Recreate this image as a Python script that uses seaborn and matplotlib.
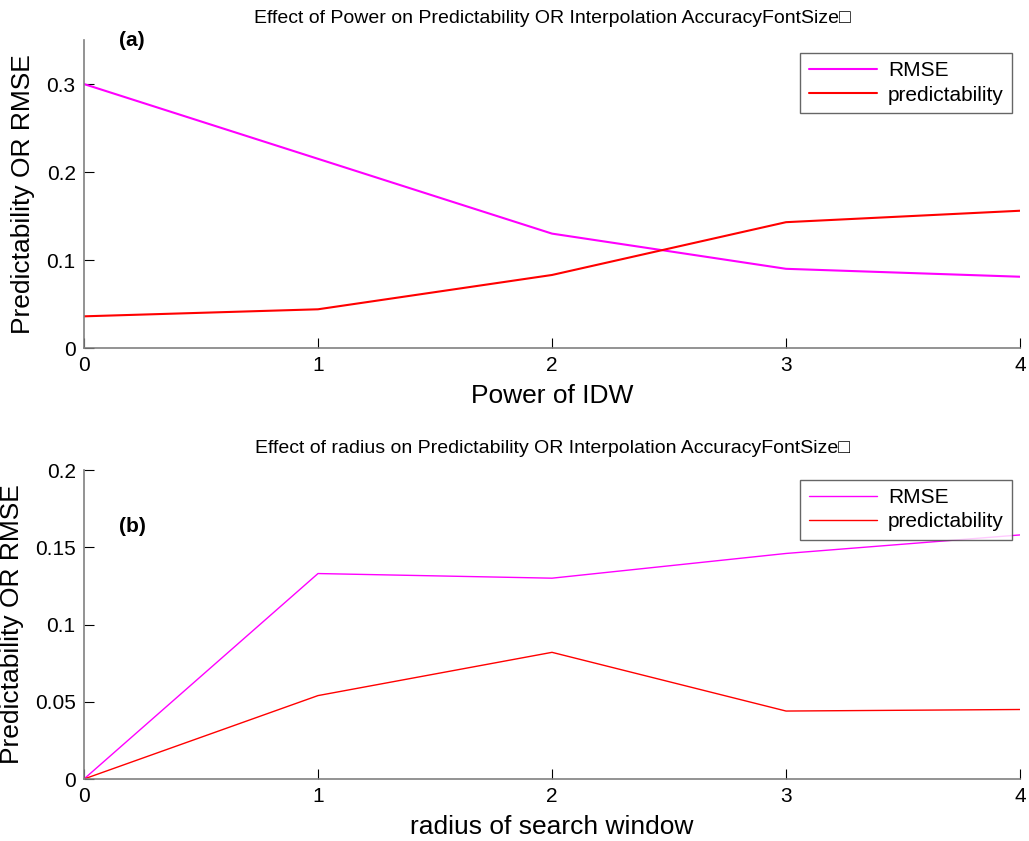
#!/usr/bin/env python3
# -*- coding: utf-8 -*-

import pandas as pd
import seaborn as sns
import matplotlib
import matplotlib.pyplot as plt

matplotlib.use('Agg')

# panel (a): power of IDW
power = [0, 1, 2, 3, 4]
rmse_power = [0.300, 0.215, 0.130, 0.090, 0.081]
pred_power = [0.036, 0.044, 0.083, 0.143, 0.156]

# panel (b): radius of search window
radius = [0, 1, 2, 3, 4]
rmse_radius = [0.0, 0.133, 0.130, 0.146, 0.158]
pred_radius = [0.0, 0.054, 0.082, 0.044, 0.045]

sns.set_style('white', {'text.color': 'black', 'axes.labelcolor': 'black',
                        'xtick.color': 'black', 'ytick.color': 'black'})
plt.rcParams['font.family'] = ['Liberation Sans', 'DejaVu Sans']
plt.rcParams['xtick.direction'] = 'in'
plt.rcParams['ytick.direction'] = 'in'

fig = plt.figure(figsize=(10.29, 8.41), dpi=100)
ax1 = fig.add_axes([0.0816, 0.5862, 0.9097, 0.3662])
ax2 = fig.add_axes([0.0816, 0.0737, 0.9097, 0.3674])

palette = {'RMSE': '#ff00ff', 'predictability': '#ff0000'}


def draw(ax, x, rmse, pred, lw):
    df = pd.DataFrame({'x': x + x,
                       'y': rmse + pred,
                       'series': ['RMSE'] * len(x) + ['predictability'] * len(x)})
    sns.lineplot(data=df, x='x', y='y', hue='series', palette=palette,
                 linewidth=lw, ax=ax, legend=True)
    ax.set_xlim(0, 4)
    ax.set_xticks([0, 1, 2, 3, 4])
    for side in ['top', 'right']:
        ax.spines[side].set_visible(False)
    for side in ['left', 'bottom']:
        ax.spines[side].set_color('#808080')
        ax.spines[side].set_linewidth(1.2)
    ax.tick_params(axis='both', labelsize=15, length=7, width=0.8,
                   color='black', labelcolor='black', left=True, bottom=True, pad=6)
    ax.set_ylabel('Predictability OR RMSE', fontsize=19, labelpad=8, color='black')
    leg = ax.legend(loc='upper right', fontsize=15, frameon=True, fancybox=False,
                    edgecolor='#404040', handlelength=3.3, borderpad=0.4,
                    labelspacing=0.25, handletextpad=0.5, borderaxespad=0)
    leg.get_frame().set_linewidth(1.0)
    for t in leg.get_texts():
        t.set_color('black')


draw(ax1, power, rmse_power, pred_power, 1.5)
ax1.set_ylim(0, 0.35)
ax1.set_yticks([0, 0.1, 0.2, 0.3])
ax1.set_yticklabels(['0', '0.1', '0.2', '0.3'])
ax1.set_xlabel('Power of IDW', fontsize=19, labelpad=6, color='black')
ax1.set_title('Effect of Power on Predictability OR Interpolation AccuracyFontSize\u25a1',
              fontsize=14, pad=12, color='black')
ax1.text(0.15, 0.35, '(a)', fontsize=15, fontweight='bold', va='center', ha='left', color='black')
ax1.legend_.set_bbox_to_anchor((0.9915, 0.958))

draw(ax2, radius, rmse_radius, pred_radius, 1.0)
ax2.set_ylim(0, 0.2)
ax2.set_yticks([0, 0.05, 0.1, 0.15, 0.2])
ax2.set_yticklabels(['0', '0.05', '0.1', '0.15', '0.2'])
ax2.set_xlabel('radius of search window', fontsize=19, labelpad=6, color='black')
ax2.set_title('Effect of radius on Predictability OR Interpolation AccuracyFontSize\u25a1',
              fontsize=14, pad=12, color='black')
ax2.text(0.15, 0.1635, '(b)', fontsize=15, fontweight='bold', va='center', ha='left', color='black')
ax2.legend_.set_bbox_to_anchor((0.9915, 0.968))

fig.savefig('out.png', dpi=100)
